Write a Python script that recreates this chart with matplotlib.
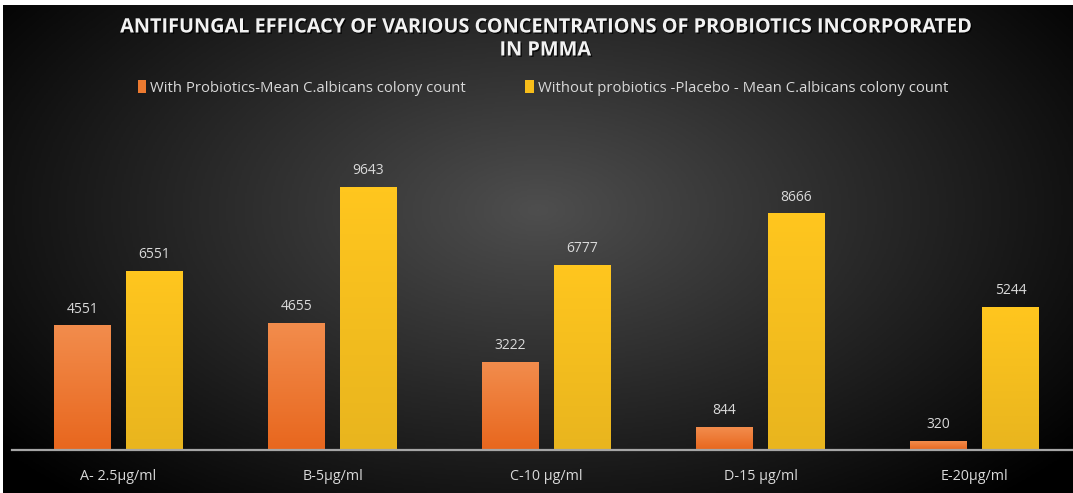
import matplotlib
matplotlib.use('Agg')
import matplotlib.pyplot as plt
import matplotlib.patheffects as pe
from matplotlib.colors import LinearSegmentedColormap
import numpy as np

# data
categories = ['A- 2.5µg/ml', 'B-5µg/ml', 'C-10 µg/ml', 'D-15 µg/ml', 'E-20µg/ml']
with_probiotics = [4551, 4655, 3222, 844, 320]
without_probiotics = [6551, 9643, 6777, 8666, 5244]
series_names = ['With Probiotics-Mean C.albicans colony count',
                'Without probiotics -Placebo - Mean C.albicans colony count']

plt.rcParams['font.family'] = ['Open Sans', 'DejaVu Sans']

W, H = 1073, 493
fig = plt.figure(figsize=(W / 100, H / 100), dpi=100)
fig.patch.set_facecolor('white')

# radial background
bg = fig.add_axes([3 / W, 0, 1 - 3 / W, 1 - 5 / H], zorder=-10)
yy, xx = np.mgrid[0:1:300j, 0:1:600j]
r = np.sqrt(((xx - 0.5) / 0.65) ** 2 + ((yy - 0.42) / 0.8) ** 2)
shade = np.clip(1 - r, 0, 1) ** 1.0
bg_cmap = LinearSegmentedColormap.from_list('bg', ['#000000', '#4e4e4e'])
bg.imshow(shade, cmap=bg_cmap, aspect='auto', extent=[0, 1, 0, 1], vmin=0, vmax=1)
bg.axis('off')

ax = fig.add_axes([11.5 / W, 43 / H, 1070 / W, 327 / H])
ax.set_facecolor('none')

x = np.arange(len(categories))
bw = 0.266
off = 0.168
b1 = ax.bar(x - off, with_probiotics, bw, color='#ec7a30', label=series_names[0], zorder=2)
b2 = ax.bar(x + off, without_probiotics, bw, color='#f7bd1a', label=series_names[1], zorder=2)

# vertical gradients on the bars
grads = [('#f28c4c', '#e8671e'), ('#ffc61e', '#e9b51e')]
for bars, (top, bot) in zip([b1, b2], grads):
    cm = LinearSegmentedColormap.from_list('g', [bot, top])
    for b in bars:
        x0, w, h = b.get_x(), b.get_width(), b.get_height()
        ax.imshow(np.linspace(0, 1, 50).reshape(-1, 1), cmap=cm, aspect='auto',
                  extent=[x0, x0 + w, 0, h], origin='lower', zorder=2.5)

for bars in [b1, b2]:
    for b in bars:
        ax.text(b.get_x() + b.get_width() / 2, b.get_height() + 330, f'{int(b.get_height())}',
                ha='center', va='bottom', color='#d9d9d9', fontsize=10)

ax.set_xlim(-0.5, len(categories) - 0.5)
ax.set_ylim(0, 12000)
ax.set_xticks(x)
ax.set_xticklabels(categories, color='#d9d9d9', fontsize=10.3)
ax.tick_params(axis='x', length=0, pad=14)
ax.set_yticks([])
for s in ['top', 'right', 'left']:
    ax.spines[s].set_visible(False)
ax.spines['bottom'].set_color('#a6a6a6')
ax.spines['bottom'].set_linewidth(1.6)

leg = fig.legend(handles=[b1, b2], labels=series_names, loc='center', ncol=2,
                 bbox_to_anchor=(0.506, 1 - 88 / H), frameon=False, fontsize=10.7,
                 handlelength=0.55, handleheight=0.9, handletextpad=0.3, columnspacing=4.0,
                 labelcolor='#d9d9d9')

fig.text(0.508, 1 - 39 / H, 'ANTIFUNGAL EFFICACY OF VARIOUS CONCENTRATIONS OF PROBIOTICS INCORPORATED\nIN PMMA',
         ha='center', va='center', color='#f2f2f2', fontsize=14.3, fontweight='bold',
         linespacing=1.2,
         path_effects=[pe.withSimplePatchShadow(offset=(1, -1), shadow_rgbFace='black', alpha=0.8)])

fig.savefig('out.png', dpi=100, facecolor=fig.get_facecolor())
